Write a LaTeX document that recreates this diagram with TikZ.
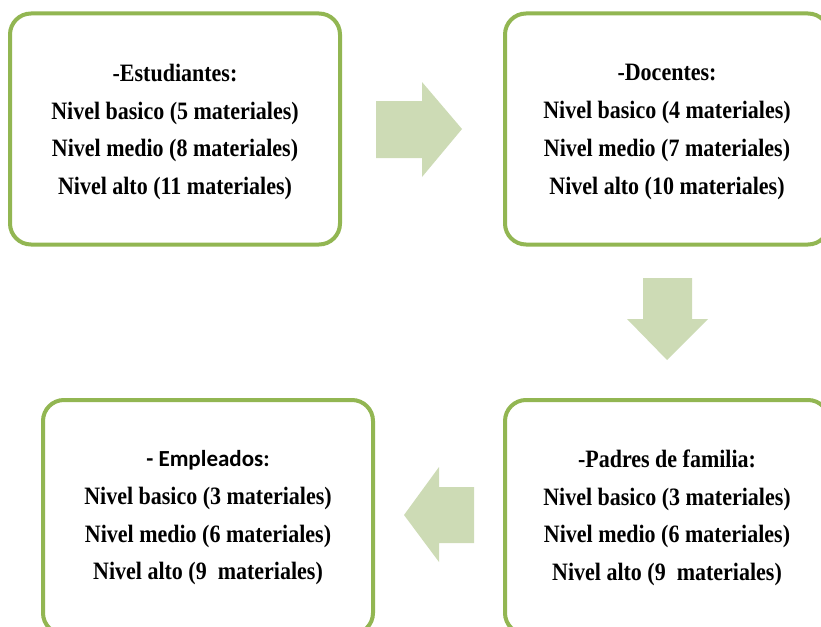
\documentclass[tikz,border=0pt]{standalone}
\usepackage{fontspec}
\setmainfont{Liberation Serif}[FakeStretch=0.88]
\newfontfamily\titlesans{Carlito}
\definecolor{boxgreen}{RGB}{146,182,82}
\definecolor{arrowgreen}{RGB}{205,219,181}

\begin{document}
\begin{tikzpicture}[x=1pt,y=-1pt]
% define box types
\tikzstyle{groupbox}=[draw=boxgreen, line width=4pt, rectangle, rounded corners=21pt,
    fill=white, minimum width=330pt, minimum height=231pt]
\tikzstyle{grouptext}=[align=center, font=\bfseries\fontsize{25}{37.7}\selectfont]
\tikzstyle{flowarrow}=[fill=arrowgreen]
\useasboundingbox (0,0) rectangle (821,626);
% boxes
\node[groupbox] (estud) at (175,129) {};
\node[groupbox, minimum width=324pt] (docen) at (667,129) {};
\node[groupbox, minimum width=324pt, minimum height=234pt] (padres) at (667,517) {};
\node[groupbox, minimum height=234pt] (emple) at (208,517) {};
% texts
\node[grouptext, yshift=-3pt] (estudtxt) at (estud.center) {-Estudiantes:\\
    Nivel basico (5 materiales)\\Nivel medio (8 materiales)\\Nivel alto (11 materiales)};
\node[grouptext, yshift=-3pt] (docentxt) at (docen.center) {-Docentes:\\
    Nivel basico (4 materiales)\\Nivel medio (7 materiales)\\Nivel alto (10 materiales)};
\node[grouptext, yshift=-1pt] (padrestxt) at (padres.center) {-Padres de familia:\\
    Nivel basico (3 materiales)\\Nivel medio (6 materiales)\\Nivel alto (9~ materiales)};
\node[grouptext, yshift=-1pt] (empletxt) at (emple.center)
    {{\titlesans\fontsize{23}{37.7}\selectfont - Empleados:}\\
    Nivel basico (3 materiales)\\Nivel medio (6 materiales)\\Nivel alto (9~ materiales)};
% arrows between boxes
\fill[flowarrow] (376,101) -- (422,101) -- (422,82) -- (462,129) -- (422,177)
    -- (422,158) -- (376,158) -- cycle;
\fill[flowarrow] (643,278) -- (692,278) -- (692,319) -- (708,319) -- (667,360)
    -- (627,319) -- (643,319) -- cycle;
\fill[flowarrow] (474,487) -- (439,487) -- (439,467) -- (404,515) -- (439,562)
    -- (439,543) -- (474,543) -- cycle;
\end{tikzpicture}
\end{document}
